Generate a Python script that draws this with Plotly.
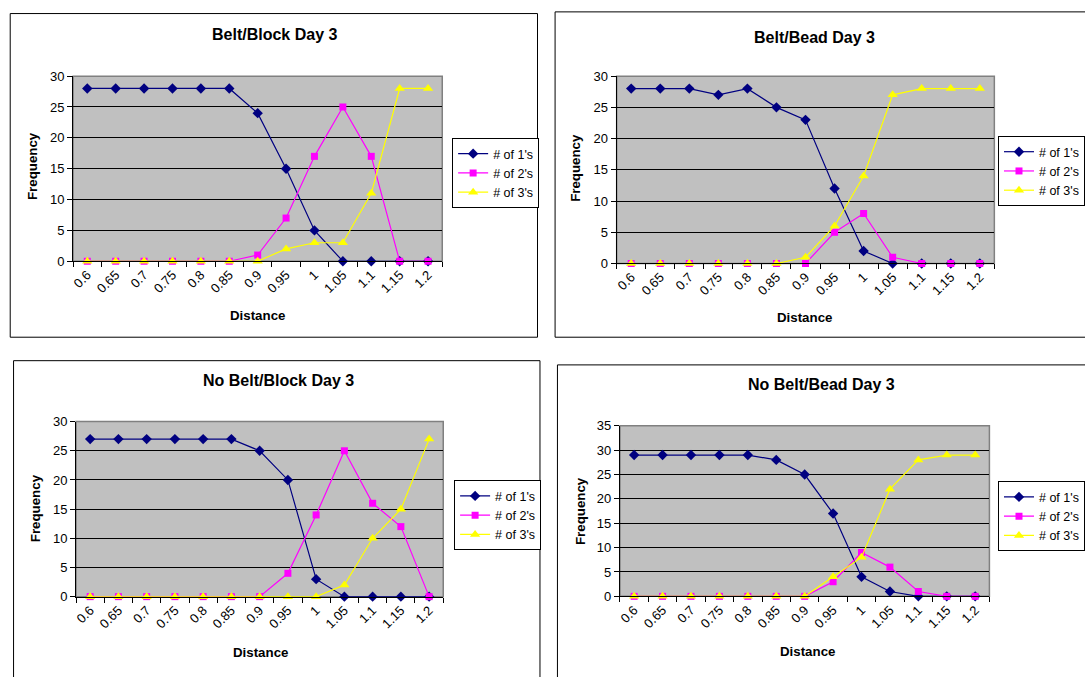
import plotly.graph_objects as go

distance = ["0.6", "0.65", "0.7", "0.75", "0.8", "0.85", "0.9", "0.95", "1", "1.05", "1.1", "1.15", "1.2"]
series_names = ["# of 1's", "# of 2's", "# of 3's"]

titles = ["Belt/Block Day 3", "Belt/Bead Day 3", "No Belt/Block Day 3", "No Belt/Bead Day 3"]

belt_block_1 = [28, 28, 28, 28, 28, 28, 24, 15, 5, 0, 0, 0, 0]
belt_block_2 = [0, 0, 0, 0, 0, 0, 1, 7, 17, 25, 17, 0, 0]
belt_block_3 = [0, 0, 0, 0, 0, 0, 0, 2, 3, 3, 11, 28, 28]

belt_bead_1 = [28, 28, 28, 27, 28, 25, 23, 12, 2, 0, 0, 0, 0]
belt_bead_2 = [0, 0, 0, 0, 0, 0, 0, 5, 8, 1, 0, 0, 0]
belt_bead_3 = [0, 0, 0, 0, 0, 0, 1, 6, 14, 27, 28, 28, 28]

nobelt_block_1 = [27, 27, 27, 27, 27, 27, 25, 20, 3, 0, 0, 0, 0]
nobelt_block_2 = [0, 0, 0, 0, 0, 0, 0, 4, 14, 25, 16, 12, 0]
nobelt_block_3 = [0, 0, 0, 0, 0, 0, 0, 0, 0, 2, 10, 15, 27]

nobelt_bead_1 = [29, 29, 29, 29, 29, 28, 25, 17, 4, 1, 0, 0, 0]
nobelt_bead_2 = [0, 0, 0, 0, 0, 0, 0, 3, 9, 6, 1, 0, 0]
nobelt_bead_3 = [0, 0, 0, 0, 0, 0, 0, 4, 8, 22, 28, 29, 29]

y_max = [30, 30, 30, 35]

panels_data = [
    [belt_block_1, belt_block_2, belt_block_3],
    [belt_bead_1, belt_bead_2, belt_bead_3],
    [nobelt_block_1, nobelt_block_2, nobelt_block_3],
    [nobelt_bead_1, nobelt_bead_2, nobelt_bead_3],
]

W, H = 1085, 677
FONT = "Liberation Sans, Arial, sans-serif"

# pixel layout: plot area (x0, x1, ytop, ybottom)
plot_px = [(71, 445, 70.7, 260), (621.7, 1004.3, 70.7, 262.3), (74, 446, 424, 603), (625, 999.3, 428.3, 602.7)]
box_px = [(7.3, 6.7, 541.5, 337.7), (559.3, 5, 1100, 337.7), (10.7, 361.7, 544, 690), (561.7, 366, 1100, 690)]
title_px = [(275.5, 28), (822, 31), (279, 382), (829, 386)]
legend_px = [(455, 134), (1008, 132), (457, 484), (1008, 485)]
ytitle_px = [(30, 163), (580, 165), (33, 513), (585, 515)]
xtitle_px = [(257.5, 316), (812, 318), (261, 660), (815, 659)]

colors = ["#000080", "#FF00FF", "#FFFF00"]
symbols = ["diamond", "square", "triangle-up"]
msizes = [8, 7, 9]

fig = go.Figure()
shapes = []
annotations = []
layout_extra = {}

def fx(px):
    return px / W

def fy(py):
    return 1 - py / H

for i in range(4):
    xa = "x" if i == 0 else f"x{i+1}"
    ya = "y" if i == 0 else f"y{i+1}"
    lg = "legend" if i == 0 else f"legend{i+1}"
    for s in range(3):
        fig.add_trace(go.Scatter(
            x=distance, y=panels_data[i][s], name=series_names[s],
            mode="lines+markers", xaxis=xa, yaxis=ya, legend=lg,
            line=dict(color=colors[s], width=1.2),
            marker=dict(symbol=symbols[s], size=msizes[s], color=colors[s]),
            cliponaxis=False,
        ))
    x0, x1, yt, yb = plot_px[i]
    xkey = "xaxis" if i == 0 else f"xaxis{i+1}"
    ykey = "yaxis" if i == 0 else f"yaxis{i+1}"
    layout_extra[xkey] = dict(
        type="category", domain=[fx(x0), fx(x1)], anchor=ya,
        tickson="boundaries", ticks="outside", ticklen=5, tickcolor="black",
        tickangle=-45, tickfont=dict(family=FONT, size=13, color="black"),
        showgrid=False, showline=True, linecolor="black", linewidth=1,
        zeroline=False, range=[-0.5, 12.5],
    )
    layout_extra[ykey] = dict(
        domain=[fy(yb), fy(yt)], anchor=xa, range=[0, y_max[i]], dtick=5,
        ticks="outside", ticklen=5, tickcolor="black",
        tickfont=dict(family=FONT, size=13, color="black"),
        showgrid=True, gridcolor="black", gridwidth=1,
        showline=True, linecolor="black", linewidth=1, zeroline=False,
    )
    layout_extra[lg] = dict(
        x=fx(legend_px[i][0]), y=fy(legend_px[i][1]), xanchor="left", yanchor="top",
        bgcolor="white", bordercolor="black", borderwidth=1,
        font=dict(family=FONT, size=12.5, color="black"),
        itemwidth=30, tracegroupgap=0,
    )
    shapes.append(dict(type="rect", xref="paper", yref="paper",
                       x0=fx(x0), x1=fx(x1), y0=fy(yb), y1=fy(yt),
                       fillcolor="#C0C0C0", line=dict(color="#808080", width=1.5), layer="below"))
    bx0, by0, bx1, by1 = box_px[i]
    shapes.append(dict(type="rect", xref="paper", yref="paper",
                       x0=fx(bx0), x1=fx(bx1), y0=fy(by1), y1=fy(by0),
                       line=dict(color="black", width=1), fillcolor="rgba(0,0,0,0)", layer="below"))
    annotations.append(dict(text=f"<b>{titles[i]}</b>", x=fx(title_px[i][0]), y=fy(title_px[i][1]),
                            xref="paper", yref="paper", showarrow=False,
                            xanchor="center", yanchor="middle",
                            font=dict(family=FONT, size=16, color="black")))
    annotations.append(dict(text="<b>Frequency</b>", x=fx(ytitle_px[i][0]), y=fy(ytitle_px[i][1]),
                            xref="paper", yref="paper", showarrow=False, textangle=-90,
                            xanchor="center", yanchor="middle",
                            font=dict(family=FONT, size=13.3, color="black")))
    annotations.append(dict(text="<b>Distance</b>", x=fx(xtitle_px[i][0]), y=fy(xtitle_px[i][1]),
                            xref="paper", yref="paper", showarrow=False,
                            xanchor="center", yanchor="middle",
                            font=dict(family=FONT, size=13.3, color="black")))

fig.update_layout(
    width=W, height=H, margin=dict(l=0, r=0, t=0, b=0),
    paper_bgcolor="white", plot_bgcolor="rgba(0,0,0,0)",
    shapes=shapes, annotations=annotations, showlegend=True,
    font=dict(family=FONT, color="black"),
    **layout_extra,
)

fig.write_html("out.html", config={"displayModeBar": False},
               post_script="document.body.style.margin='0';document.body.style.overflow='hidden';")
